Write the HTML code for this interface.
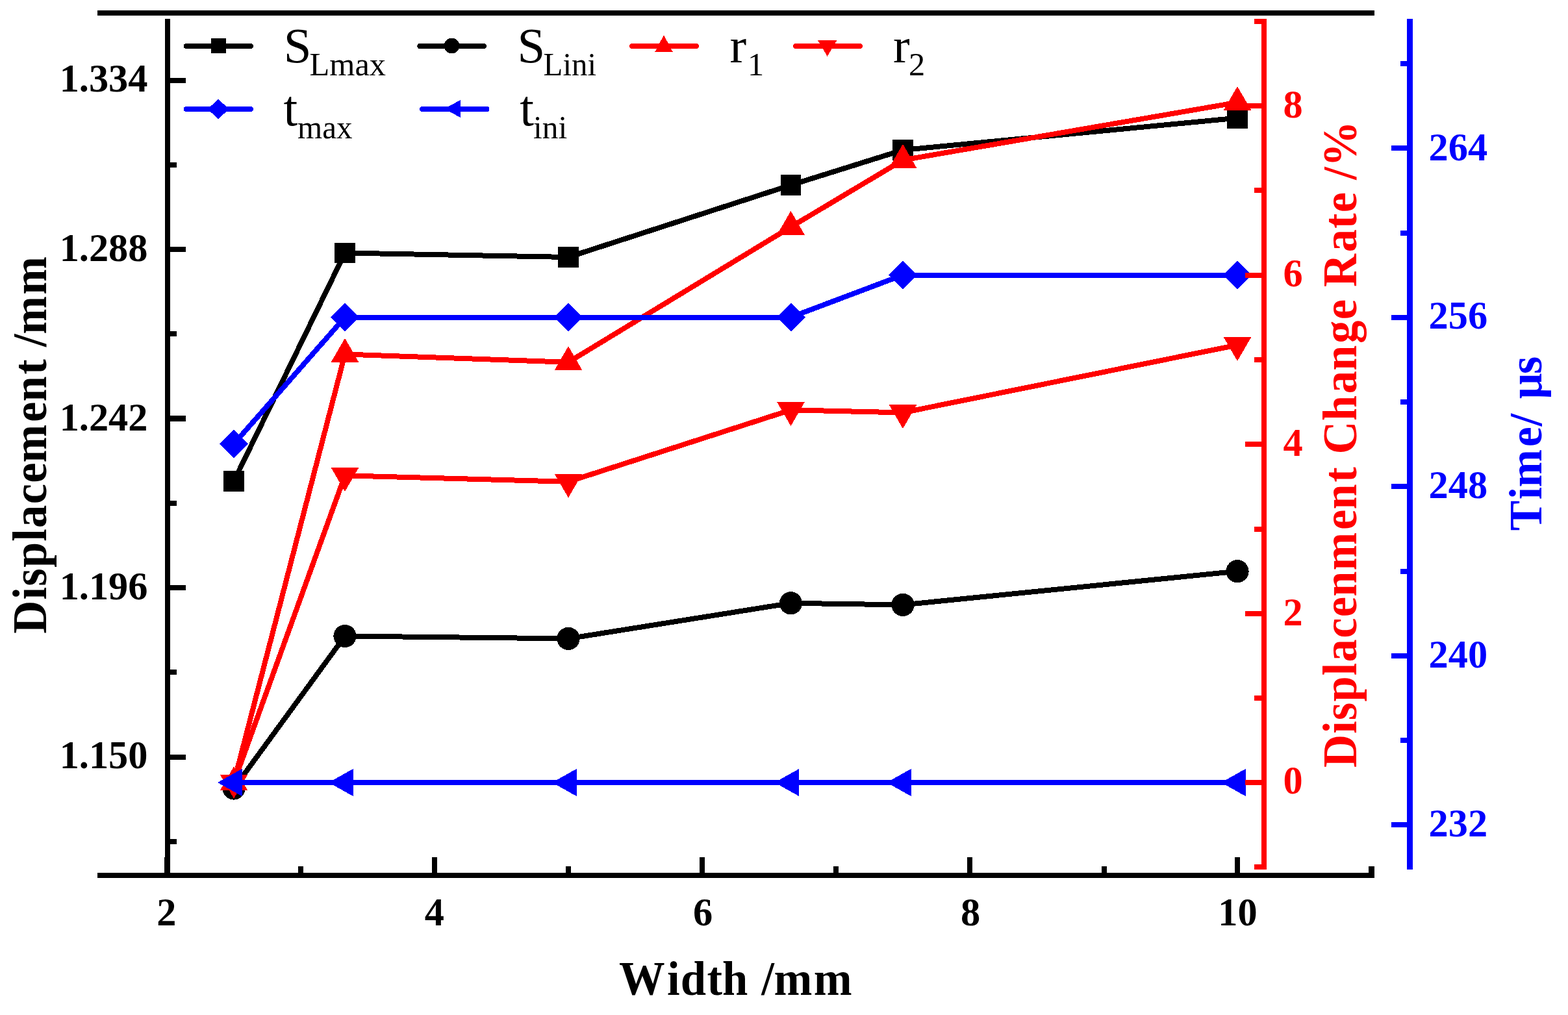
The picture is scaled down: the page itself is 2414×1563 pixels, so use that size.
<!DOCTYPE html>
<html lang="en">
<head>
<meta charset="utf-8">
<title>Displacement, Displacement Change Rate and Time vs Width</title>
<style>
html, body { margin: 0; padding: 0; background: #ffffff; }
body { width: 2414px; height: 1563px; overflow: hidden; }
svg { display: block; }
text { white-space: pre; font-kerning: none; }
</style>
</head>
<body>
<svg width="2414" height="1563" viewBox="0 0 2414 1563">
<rect x="0" y="0" width="2414" height="1563" fill="#ffffff"/>
<g id="series" shape-rendering="crispEdges">
<polyline points="360.0,741.0 531.0,389.5 875.0,396.0 1217.5,285.0 1390.0,231.0 1905.0,181.7" fill="none" stroke="#000000" stroke-width="8" stroke-linejoin="round" stroke-linecap="round"/>
<rect x="344.2" y="725.2" width="31.6" height="31.6" fill="#000000"/>
<rect x="515.2" y="373.7" width="31.6" height="31.6" fill="#000000"/>
<rect x="859.2" y="380.2" width="31.6" height="31.6" fill="#000000"/>
<rect x="1201.7" y="269.2" width="31.6" height="31.6" fill="#000000"/>
<rect x="1374.2" y="215.2" width="31.6" height="31.6" fill="#000000"/>
<rect x="1889.2" y="165.9" width="31.6" height="31.6" fill="#000000"/>
<polyline points="360.0,1214.0 531.0,979.5 875.0,983.4 1217.5,928.8 1390.0,931.4 1905.0,879.7" fill="none" stroke="#000000" stroke-width="8" stroke-linejoin="round" stroke-linecap="round"/>
<circle cx="360.0" cy="1214.0" r="17.6" fill="#000000"/>
<circle cx="531.0" cy="979.5" r="17.6" fill="#000000"/>
<circle cx="875.0" cy="983.4" r="17.6" fill="#000000"/>
<circle cx="1217.5" cy="928.8" r="17.6" fill="#000000"/>
<circle cx="1390.0" cy="931.4" r="17.6" fill="#000000"/>
<circle cx="1905.0" cy="879.7" r="17.6" fill="#000000"/>
<polyline points="360.0,1205.0 531.0,545.5 875.0,557.8 1217.5,349.5 1390.0,246.5 1905.0,157.7" fill="none" stroke="#ff0000" stroke-width="8" stroke-linejoin="round" stroke-linecap="round"/>
<polygon points="360.0,1180.3 381.4,1217.3 338.6,1217.3" fill="#ff0000"/>
<polygon points="531.0,520.8 552.4,557.8 509.6,557.8" fill="#ff0000"/>
<polygon points="875.0,533.1 896.4,570.1 853.6,570.1" fill="#ff0000"/>
<polygon points="1217.5,324.8 1238.9,361.8 1196.1,361.8" fill="#ff0000"/>
<polygon points="1390.0,221.8 1411.4,258.8 1368.6,258.8" fill="#ff0000"/>
<polygon points="1905.0,133.0 1926.4,170.0 1883.6,170.0" fill="#ff0000"/>
<polyline points="360.0,1205.0 531.0,732.3 875.0,741.8 1217.5,631.3 1390.0,635.4 1905.0,531.3" fill="none" stroke="#ff0000" stroke-width="8" stroke-linejoin="round" stroke-linecap="round"/>
<polygon points="360.0,1229.7 381.4,1192.7 338.6,1192.7" fill="#ff0000"/>
<polygon points="531.0,757.0 552.4,720.0 509.6,720.0" fill="#ff0000"/>
<polygon points="875.0,766.5 896.4,729.5 853.6,729.5" fill="#ff0000"/>
<polygon points="1217.5,656.0 1238.9,619.0 1196.1,619.0" fill="#ff0000"/>
<polygon points="1390.0,660.1 1411.4,623.1 1368.6,623.1" fill="#ff0000"/>
<polygon points="1905.0,556.0 1926.4,519.0 1883.6,519.0" fill="#ff0000"/>
<polyline points="360.0,683.7 531.0,488.5 875.0,488.5 1217.5,488.5 1390.0,423.5 1905.0,423.8" fill="none" stroke="#0000ff" stroke-width="8" stroke-linejoin="round" stroke-linecap="round"/>
<polygon points="360.0,661.7 382.0,683.7 360.0,705.7 338.0,683.7" fill="#0000ff"/>
<polygon points="531.0,466.5 553.0,488.5 531.0,510.5 509.0,488.5" fill="#0000ff"/>
<polygon points="875.0,466.5 897.0,488.5 875.0,510.5 853.0,488.5" fill="#0000ff"/>
<polygon points="1217.5,466.5 1239.5,488.5 1217.5,510.5 1195.5,488.5" fill="#0000ff"/>
<polygon points="1390.0,401.5 1412.0,423.5 1390.0,445.5 1368.0,423.5" fill="#0000ff"/>
<polygon points="1905.0,401.8 1927.0,423.8 1905.0,445.8 1883.0,423.8" fill="#0000ff"/>
<polyline points="360.0,1205.0 531.0,1205.0 875.0,1205.0 1217.5,1205.0 1390.0,1205.0 1905.0,1205.0" fill="none" stroke="#0000ff" stroke-width="8" stroke-linejoin="round" stroke-linecap="round"/>
<polygon points="335.0,1205.0 372.5,1184.0 372.5,1226.0" fill="#0000ff"/>
<polygon points="506.0,1205.0 543.5,1184.0 543.5,1226.0" fill="#0000ff"/>
<polygon points="850.0,1205.0 887.5,1184.0 887.5,1226.0" fill="#0000ff"/>
<polygon points="1192.5,1205.0 1230.0,1184.0 1230.0,1226.0" fill="#0000ff"/>
<polygon points="1365.0,1205.0 1402.5,1184.0 1402.5,1226.0" fill="#0000ff"/>
<polygon points="1880.0,1205.0 1917.5,1184.0 1917.5,1226.0" fill="#0000ff"/>
</g>
<g id="axes" shape-rendering="crispEdges">
<rect x="150" y="16" width="1966" height="8" fill="#000000"/>
<rect x="150" y="1344" width="1966" height="8" fill="#000000"/>
<rect x="254" y="29" width="8" height="1315" fill="#000000"/>
<rect x="262" y="120" width="24" height="8" fill="#000000"/>
<rect x="262" y="380" width="24" height="8" fill="#000000"/>
<rect x="262" y="640" width="24" height="9" fill="#000000"/>
<rect x="262" y="901" width="24" height="8" fill="#000000"/>
<rect x="262" y="1162" width="24" height="8" fill="#000000"/>
<rect x="262" y="250" width="10" height="8" fill="#000000"/>
<rect x="262" y="510" width="10" height="8" fill="#000000"/>
<rect x="262" y="771" width="10" height="8" fill="#000000"/>
<rect x="262" y="1031" width="10" height="8" fill="#000000"/>
<rect x="262" y="1292" width="10" height="8" fill="#000000"/>
<rect x="253" y="1320" width="8" height="24" fill="#000000"/>
<rect x="665" y="1320" width="8" height="24" fill="#000000"/>
<rect x="1077" y="1320" width="8" height="24" fill="#000000"/>
<rect x="1489" y="1320" width="8" height="24" fill="#000000"/>
<rect x="1901" y="1320" width="8" height="24" fill="#000000"/>
<rect x="459" y="1334" width="8" height="10" fill="#000000"/>
<rect x="871" y="1334" width="8" height="10" fill="#000000"/>
<rect x="1283" y="1334" width="8" height="10" fill="#000000"/>
<rect x="1696" y="1334" width="8" height="10" fill="#000000"/>
<rect x="2107" y="1334" width="9" height="10" fill="#000000"/>
<rect x="1942" y="29" width="8" height="1310" fill="#ff0000"/>
<rect x="1917" y="159" width="25" height="8" fill="#ff0000"/>
<rect x="1917" y="420" width="25" height="8" fill="#ff0000"/>
<rect x="1917" y="680" width="25" height="8" fill="#ff0000"/>
<rect x="1917" y="941" width="25" height="8" fill="#ff0000"/>
<rect x="1917" y="1201" width="25" height="8" fill="#ff0000"/>
<rect x="1931" y="29" width="11" height="8" fill="#ff0000"/>
<rect x="1931" y="289" width="11" height="8" fill="#ff0000"/>
<rect x="1931" y="550" width="11" height="8" fill="#ff0000"/>
<rect x="1931" y="811" width="11" height="8" fill="#ff0000"/>
<rect x="1931" y="1071" width="11" height="8" fill="#ff0000"/>
<rect x="1931" y="1331" width="11" height="8" fill="#ff0000"/>
<rect x="2166" y="29" width="9" height="1310" fill="#0000ff"/>
<rect x="2142" y="224" width="24" height="8" fill="#0000ff"/>
<rect x="2142" y="485" width="24" height="8" fill="#0000ff"/>
<rect x="2142" y="745" width="24" height="8" fill="#0000ff"/>
<rect x="2142" y="1006" width="24" height="8" fill="#0000ff"/>
<rect x="2142" y="1266" width="24" height="8" fill="#0000ff"/>
<rect x="2156" y="94" width="10" height="8" fill="#0000ff"/>
<rect x="2156" y="355" width="10" height="8" fill="#0000ff"/>
<rect x="2156" y="615" width="10" height="8" fill="#0000ff"/>
<rect x="2156" y="876" width="10" height="8" fill="#0000ff"/>
<rect x="2156" y="1136" width="10" height="8" fill="#0000ff"/>
</g>
<g id="ticklabels" font-family="'Liberation Serif', 'Times New Roman', serif" font-weight="bold" font-size="61">
<text transform="translate(227.5 141.1) scale(0.99 1.015)" x="0" y="0" text-anchor="end" fill="#000000">1.334</text>
<text transform="translate(227.5 402.2) scale(0.99 1.015)" x="0" y="0" text-anchor="end" fill="#000000">1.288</text>
<text transform="translate(227.5 663.3) scale(0.99 1.015)" x="0" y="0" text-anchor="end" fill="#000000">1.242</text>
<text transform="translate(227.5 923.3) scale(0.99 1.015)" x="0" y="0" text-anchor="end" fill="#000000">1.196</text>
<text transform="translate(227.5 1183.3) scale(0.99 1.015)" x="0" y="0" text-anchor="end" fill="#000000">1.150</text>
<text transform="translate(256.3 1425.3) scale(0.99 1.015)" x="0" y="0" text-anchor="middle" fill="#000000">2</text>
<text transform="translate(668.9 1425.3) scale(0.99 1.015)" x="0" y="0" text-anchor="middle" fill="#000000">4</text>
<text transform="translate(1082.1 1425.3) scale(0.99 1.015)" x="0" y="0" text-anchor="middle" fill="#000000">6</text>
<text transform="translate(1494.1 1425.3) scale(0.99 1.015)" x="0" y="0" text-anchor="middle" fill="#000000">8</text>
<text transform="translate(1905.5 1425.3) scale(0.99 1.015)" x="0" y="0" text-anchor="middle" fill="#000000">10</text>
<text transform="translate(1975.6 180.7) scale(0.99 1.015)" x="0" y="0" text-anchor="start" fill="#ff0000">8</text>
<text transform="translate(1975.6 440.6) scale(0.99 1.015)" x="0" y="0" text-anchor="start" fill="#ff0000">6</text>
<text transform="translate(1975.6 702.0) scale(0.99 1.015)" x="0" y="0" text-anchor="start" fill="#ff0000">4</text>
<text transform="translate(1975.6 962.8) scale(0.99 1.015)" x="0" y="0" text-anchor="start" fill="#ff0000">2</text>
<text transform="translate(1975.6 1222.2) scale(0.99 1.015)" x="0" y="0" text-anchor="start" fill="#ff0000">0</text>
<text transform="translate(2199.6 246.6) scale(0.99 1.015)" x="0" y="0" text-anchor="start" fill="#0000ff">264</text>
<text transform="translate(2199.6 506.3) scale(0.99 1.015)" x="0" y="0" text-anchor="start" fill="#0000ff">256</text>
<text transform="translate(2199.6 767.4) scale(0.99 1.015)" x="0" y="0" text-anchor="start" fill="#0000ff">248</text>
<text transform="translate(2199.6 1028.4) scale(0.99 1.015)" x="0" y="0" text-anchor="start" fill="#0000ff">240</text>
<text transform="translate(2199.6 1288.4) scale(0.99 1.015)" x="0" y="0" text-anchor="start" fill="#0000ff">232</text>
</g>
<g id="titles" font-family="'Liberation Serif', 'Times New Roman', serif" font-weight="bold">
<text transform="translate(953.0 1532.1) scale(0.96 1)" font-size="73.6" fill="#000000" x="-0.13 77.09 98.83 141.12 165.74 209.15 228.36 248.44 312.30" y="0">Width /mm</text>
<text transform="translate(70.8 976.8) rotate(-90) scale(0.96 1)" font-size="73.4" fill="#000000" x="1.10 55.63 77.05 107.05 149.14 170.73 208.87 242.82 275.28 340.46 373.33 416.75 442.08 461.24 481.26 544.95" y="0">Displacement /mm</text>
<text transform="translate(2088.1 1183.1) rotate(-90) scale(0.96 1)" font-size="73.3" fill="#ff0000" x="1.10 55.55 76.95 106.90 148.93 170.50 208.59 242.49 275.31 317.36 382.45 415.27 458.63 483.93 503.74 557.37 600.98 638.00 681.61 719.71 753.31 772.08 827.91 865.83 891.43 925.03 944.16 964.93" y="0">Displacenment Change Rate /%</text>
<text transform="translate(2373.3 818.2) rotate(-90) scale(0.96 1)" font-size="72.7" fill="#0000ff" x="1.01 50.93 70.74 135.32 168.69 189.70 212.55 252.30" y="0">Time/ μs</text>
</g>
<g id="legend" shape-rendering="crispEdges">
<line x1="286.8" y1="71" x2="386.2" y2="71" stroke="#000000" stroke-width="8" stroke-linecap="round"/>
<rect x="325.1" y="59.3" width="22.5" height="22.5" fill="#000000"/>
<line x1="646.4" y1="71" x2="745.1" y2="71" stroke="#000000" stroke-width="8" stroke-linecap="round"/>
<circle cx="695.6" cy="70.5" r="11.9" fill="#000000"/>
<line x1="973.1" y1="71" x2="1071.9" y2="71" stroke="#ff0000" stroke-width="8" stroke-linecap="round"/>
<polygon points="1022.0,54.0 1035.8,80.0 1008.2,80.0" fill="#ff0000"/>
<line x1="1225.2" y1="71" x2="1323.9" y2="71" stroke="#ff0000" stroke-width="8" stroke-linecap="round"/>
<polygon points="1273.7,86.9 1288.2,62.4 1259.2,62.4" fill="#ff0000"/>
<line x1="286.8" y1="168" x2="386.2" y2="168" stroke="#0000ff" stroke-width="8" stroke-linecap="round"/>
<polygon points="336.1,152.9 352.8,168.0 336.1,183.1 319.4,168.0" fill="#0000ff"/>
<line x1="650.0" y1="168" x2="749.5" y2="168" stroke="#0000ff" stroke-width="8" stroke-linecap="round"/>
<polygon points="683.2,167.5 709.2,154.0 709.2,181.0" fill="#0000ff"/>
</g>
<g id="legendtext" font-family="'Liberation Serif', 'Times New Roman', serif" font-size="77" fill="#000000">
<text x="436.8" y="96.4" font-size="76.8">S<tspan x="476.5" y="115.9" font-size="50.4">Lmax</tspan></text>
<text x="796.6" y="96.4" font-size="76.8">S<tspan x="836.6" y="115.9" font-size="50.4" textLength="81.5" lengthAdjust="spacingAndGlyphs">Lini</tspan></text>
<text x="1123.5" y="96.4" font-size="77">r<tspan x="1151" y="115.9" font-size="50.4">1</tspan></text>
<text x="1375" y="96.4" font-size="77">r<tspan x="1399" y="115.9" font-size="50.4">2</tspan></text>
<text x="436.4" y="193.3" font-size="78.3">t<tspan x="458" y="212.8" font-size="50.4" textLength="84.6" lengthAdjust="spacingAndGlyphs">max</tspan></text>
<text x="800.2" y="193.3" font-size="78.3">t<tspan x="821" y="212.8" font-size="50.4" textLength="52.2" lengthAdjust="spacingAndGlyphs">ini</tspan></text>
</g>
</svg>
</body>
</html>
